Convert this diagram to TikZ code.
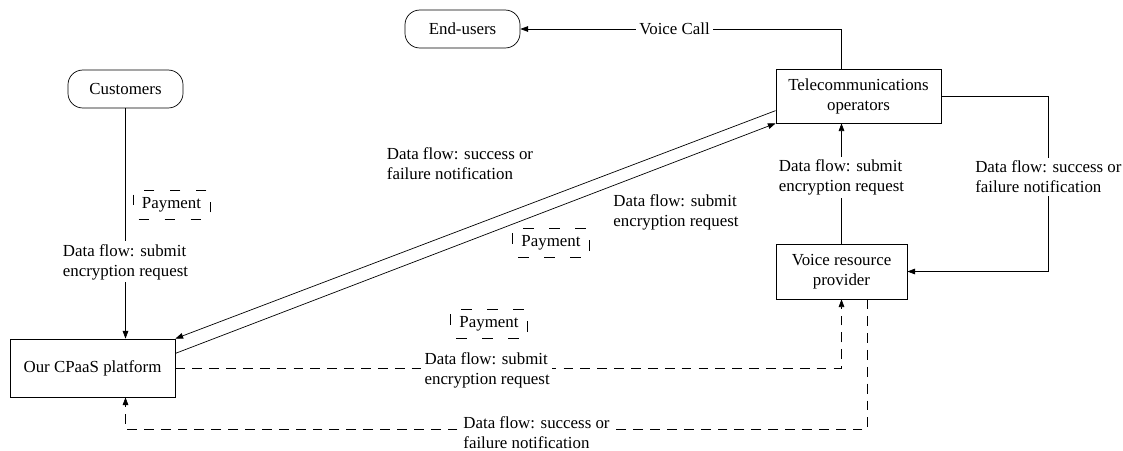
\documentclass[tikz,border=0pt]{standalone}
\usepackage{fontspec}
\setmainfont{Liberation Serif}
\usetikzlibrary{arrows.meta}
\begin{document}
\begin{tikzpicture}[x=0.025cm, y=-0.025cm, line width=0.5pt,
    font=\fontsize{12}{14.2}\selectfont,
    >={Triangle[length=5.5pt,width=4pt]},
    party/.style={draw, rounded corners=10.5pt, minimum width=81.8pt, minimum height=27pt},
    unit/.style={draw, align=center, inner sep=2pt},
    pay/.style={draw, dash pattern=on 7.5pt off 11pt, dash phase=-4pt,
        minimum width=54.8pt, minimum height=20.6pt, inner sep=0pt},
    flow/.style={fill=white, align=left, inner sep=2pt},
    flowdash/.style={dash pattern=on 7pt off 5pt}]
    \useasboundingbox (0,0) rectangle (1123,450);
    % parties and units
    \node[party] (cust) at (125.5,89) {Customers};
    \node[party] (endu) at (462.5,29) {End-users};
    \node[unit, minimum width=117.4pt, minimum height=41.3pt] (cpaas) at (92.5,368) {Our CPaaS platform};
    \node[unit, minimum width=117.4pt, minimum height=38.4pt] (tel) at (858.5,96) {Telecommunications\\operators};
    \node[unit, minimum width=93.2pt, minimum height=39.1pt] (vrp) at (841.5,271.5) {Voice resource\\provider};
    % customers to platform
    \draw[->] (cust) -- (cust |- cpaas.north)
        node[flow, pos=0.667] {Data flow: submit\\encryption request};
    \node[pay] at (171.5,204.5) {Payment};
    % platform and operators
    \draw[->] (tel.190) -- (cpaas.north east);
    \draw[->] (cpaas.10) -- (tel.south west);
    \node[align=left] at (460,164) {Data flow: success or\\failure notification};
    \node[align=left] at (676,212) {Data flow: submit\\encryption request};
    \node[pay] at (551,243) {Payment};
    % operators, provider, end-users
    \draw[->] (tel.north -| vrp) |- (endu) node[flow, pos=0.76] {Voice Call};
    \draw[->] (vrp) -- (vrp |- tel.south)
        node[flow, pos=0.55] {Data flow: submit\\encryption request};
    \draw[->] (tel.east) -- ++(107,0) |- (vrp)
        node[flow, pos=0.23] {Data flow: success or\\failure notification};
    % platform and provider
    \draw[flowdash,->] (cpaas) -| (vrp)
        node[flow, pos=0.234, yshift=-2pt] {Data flow: submit\\encryption request};
    \node[pay] at (489,324) {Payment};
    \draw[flowdash,->] (vrp.south east) ++(-40,0) -- ++(0,130) -| (cust |- cpaas.south)
        node[flow, pos=0.223, yshift=-2pt] {Data flow: success or\\failure notification};
\end{tikzpicture}
\end{document}
